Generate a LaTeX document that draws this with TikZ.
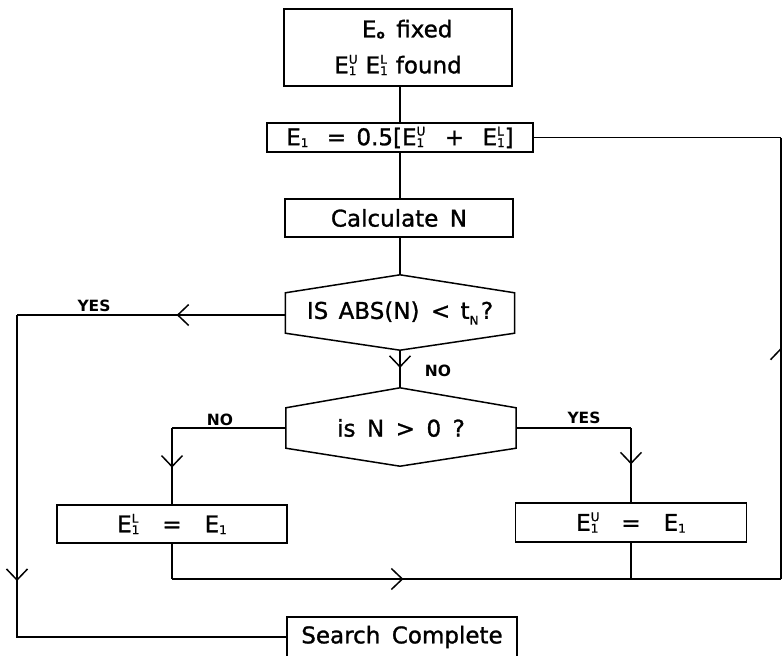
\documentclass[tikz,border=0pt]{standalone}
\usepackage{fontspec}
\setmainfont{DejaVu Sans}
\newfontfamily\plotfont{DejaVu Sans}[FakeBold=1.2]
\usetikzlibrary{arrows.meta,decorations.markings,calc}

\newcommand\SmallFont{\fontsize{12}{12}\selectfont}
\newcommand\EsubO{E\raisebox{-0.05em}{\SmallFont\bfseries o}}
\newcommand\Eone{E\raisebox{-0.08em}{\SmallFont 1}}
\newcommand\Eul[1]{E\rlap{\raisebox{0.42em}{\SmallFont #1}}\raisebox{-0.08em}{\SmallFont 1}}

\tikzset{
  mainfont/.style={font=\plotfont\fontsize{23}{23}\selectfont},
  box/.style={draw, line width=1.5pt, rectangle, inner sep=0pt, mainfont},
  hexlabel/.style={rectangle, inner sep=0pt, mainfont},
  flow/.style={draw, line width=1.5pt, line join=miter},
  lbl/.style={inner sep=0pt, font=\fontsize{15.5}{15.5}\selectfont\bfseries},
  midarrow/.style={postaction={decorate}, decoration={markings, mark=at position #1 with {\arrow{Straight Barb[length=11pt,width=21pt]}}}}
}

\begin{document}
\begin{tikzpicture}[x=1pt,y=-1pt]
\useasboundingbox (0,0) rectangle (782,656);

% nodes
\node[box, minimum width=228pt, minimum height=77pt, align=center, font=\plotfont\fontsize{23}{36}\selectfont] (top) at (398,47.5) {\hspace{0.8em}\EsubO\hspace{0.5em}fixed\\\Eul{U}\hspace{0.4em}\Eul{L}\hspace{0.35em}found};
\node[box, minimum width=266pt, minimum height=29pt] (avg) at (400,137.5) {\Eone\hspace{0.8em}=\hspace{0.45em}0.5[\Eul{U}\hspace{0.9em}+\hspace{0.8em}\Eul{L}]};
\node[box, minimum width=228pt, minimum height=38pt] (calc) at (399,218) {Calculate\hspace{0.5em}N};
\node[hexlabel, minimum width=229pt, minimum height=40pt] (hexa) at (400,313) {IS\hspace{0.45em}ABS(N)\hspace{0.5em}<\hspace{0.45em}t\raisebox{-0.25em}{\SmallFont N}\hspace{0.1em}?};
\node[hexlabel, minimum width=230pt, minimum height=40pt] (hexb) at (401,428) {is\hspace{0.5em}N\hspace{0.5em}>\hspace{0.5em}0\hspace{0.5em}?};
\node[box, minimum width=230pt, minimum height=38pt] (lbox) at (172,524) {\Eul{L}\hspace{1em}=\hspace{1em}\Eone};
\node[box, minimum width=231pt, minimum height=39pt] (ubox) at (631,522.5) {\Eul{U}\hspace{1em}=\hspace{1em}\Eone};
\node[box, minimum width=230pt, minimum height=40pt] (search) at (402,637) {Search\hspace{0.5em}Complete};

% hexagon outlines
\coordinate (hatop) at ([yshift=18pt]hexa.north);
\coordinate (habot) at ([yshift=-17pt]hexa.south);
\coordinate (hbtop) at ([xshift=-1pt,yshift=20pt]hexb.north);
\coordinate (hbbot) at ([xshift=-1pt,yshift=-18pt]hexb.south);
\draw[flow] (hexa.north west) -- (hatop) -- (hexa.north east) -- (hexa.south east) -- (habot) -- (hexa.south west) -- cycle;
\draw[flow] (hexb.north west) -- (hbtop) -- (hexb.north east) -- (hexb.south east) -- (hbbot) -- (hexb.south west) -- cycle;

% routing points
\coordinate (yesL) at (17,315);
\coordinate (noL) at (172,428);
\coordinate (yesR) at (631,428);
\coordinate (botL) at (172,579);
\coordinate (botU) at (631,579);
\coordinate (botR) at (781,579);
\coordinate (topR) at (781,137.5);

% connectors
\draw[flow] (avg.north |- top.south) -- (avg.north);
\draw[flow] (avg.south) -- (avg.south |- calc.north);
\draw[flow] (hatop |- calc.south) -- (hatop);
\draw[flow, midarrow=0.47] (habot) -- (hbtop);
\draw[flow, midarrow=0.405] (hexa.west |- yesL) -- (yesL);
\draw[flow, midarrow=0.45] (yesL) -- (yesL |- search.west) -- (search.west);
\draw[flow] (hexb.west) -- (noL);
\draw[flow, midarrow=0.52] (noL) -- (lbox.north);
\draw[flow] (hexb.east) -- (yesR);
\draw[flow, midarrow=0.49] (yesR) -- (ubox.north);
\draw[flow] (lbox.south) -- (botL);
\draw[flow, midarrow=0.38] (botL) -- (botR);
\draw[flow] (ubox.south) -- (botU);
\draw[flow, midarrow=0.524] (botR) -- (topR);
\draw[flow] (topR) -- (avg.east);

% labels
\node[lbl] (lyes1) at (94,306) {YES};
\node[lbl] (lno1) at (438,371) {NO};
\node[lbl] (lno2) at (220,420) {NO};
\node[lbl] (lyes2) at (584,418) {YES};
\end{tikzpicture}
\end{document}
